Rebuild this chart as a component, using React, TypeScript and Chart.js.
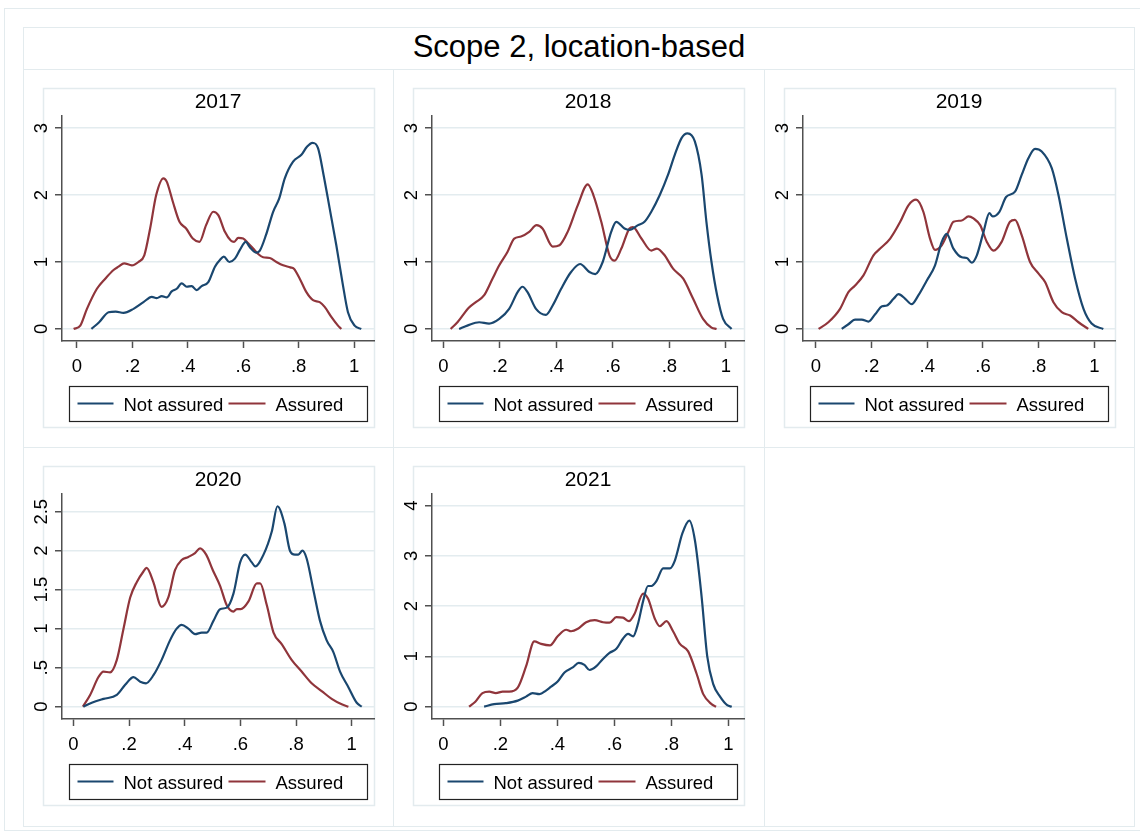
import React, { useEffect, useRef } from "react";
import { Chart, registerables } from "chart.js";

Chart.register(...registerables);

// ---------- DATA ----------
const mainTitle = "Scope 2, location-based";
const seriesNames = ["Not assured", "Assured"];
const years = ["2017", "2018", "2019", "2020", "2021"];

const xTickValues = [0, 0.2, 0.4, 0.6, 0.8, 1];
const xTickLabels = ["0", ".2", ".4", ".6", ".8", "1"];

const yTicksStd = [0, 1, 2, 3];
const yLabelsStd = ["0", "1", "2", "3"];
const yTicks2020 = [0, 0.5, 1, 1.5, 2, 2.5];
const yLabels2020 = ["0", ".5", "1", "1.5", "2", "2.5"];
const yTicks2021 = [0, 1, 2, 3, 4];
const yLabels2021 = ["0", "1", "2", "3", "4"];

const notAssured2017: [number, number][] = [
  [0.052, 0], [0.08, 0.1], [0.114, 0.25], [0.14, 0.26], [0.168, 0.24], [0.204, 0.3], [0.24, 0.4],
  [0.27, 0.48], [0.288, 0.46], [0.306, 0.49], [0.324, 0.47], [0.342, 0.56], [0.36, 0.6], [0.378, 0.68],
  [0.396, 0.63], [0.414, 0.64], [0.432, 0.58], [0.45, 0.64], [0.474, 0.7], [0.498, 0.93], [0.516, 1.03],
  [0.53, 1.08], [0.55, 1.0], [0.57, 1.05], [0.588, 1.18], [0.609, 1.3], [0.624, 1.22], [0.646, 1.14],
  [0.66, 1.17], [0.682, 1.4], [0.708, 1.75], [0.73, 1.95], [0.75, 2.25], [0.78, 2.5], [0.81, 2.6],
  [0.83, 2.72], [0.85, 2.78], [0.87, 2.7], [0.89, 2.3], [0.912, 1.8], [0.936, 1.25], [0.958, 0.7],
  [0.978, 0.25], [1.002, 0.05], [1.026, 0],
];
const assured2017: [number, number][] = [
  [-0.012, 0], [0.012, 0.05], [0.036, 0.3], [0.072, 0.6], [0.102, 0.75], [0.132, 0.88], [0.15, 0.93],
  [0.17, 0.98], [0.198, 0.95], [0.222, 1.0], [0.243, 1.1], [0.264, 1.5], [0.286, 2.0], [0.312, 2.25],
  [0.324, 2.2], [0.346, 1.9], [0.37, 1.6], [0.394, 1.5], [0.418, 1.35], [0.442, 1.3], [0.466, 1.55],
  [0.492, 1.75], [0.51, 1.7], [0.534, 1.45], [0.555, 1.32], [0.567, 1.3], [0.582, 1.36], [0.6, 1.35],
  [0.618, 1.28], [0.636, 1.2], [0.654, 1.12], [0.672, 1.07], [0.696, 1.06], [0.72, 1.0], [0.744, 0.95],
  [0.77, 0.92], [0.783, 0.9], [0.804, 0.75], [0.828, 0.55], [0.852, 0.43], [0.876, 0.4], [0.894, 0.33],
  [0.918, 0.18], [0.942, 0.05], [0.954, 0],
];

const notAssured2018: [number, number][] = [
  [0.056, 0], [0.085, 0.05], [0.127, 0.1], [0.162, 0.08], [0.198, 0.15], [0.233, 0.3], [0.263, 0.55],
  [0.28, 0.63], [0.298, 0.55], [0.328, 0.3], [0.363, 0.21], [0.387, 0.35], [0.417, 0.6], [0.452, 0.85],
  [0.484, 0.97], [0.517, 0.85], [0.538, 0.82], [0.564, 1.0], [0.594, 1.45], [0.612, 1.6], [0.641, 1.5],
  [0.659, 1.48], [0.689, 1.55], [0.712, 1.6], [0.736, 1.75], [0.766, 2.0], [0.795, 2.3], [0.819, 2.6],
  [0.843, 2.85], [0.864, 2.92], [0.89, 2.8], [0.914, 2.3], [0.931, 1.6], [0.949, 1.0], [0.969, 0.5],
  [0.99, 0.15], [1.02, 0],
];
const assured2018: [number, number][] = [
  [0.026, 0], [0.05, 0.1], [0.091, 0.32], [0.115, 0.4], [0.144, 0.5], [0.174, 0.75], [0.198, 0.95],
  [0.227, 1.15], [0.251, 1.35], [0.275, 1.38], [0.304, 1.45], [0.33, 1.55], [0.351, 1.5], [0.387, 1.23],
  [0.411, 1.25], [0.44, 1.45], [0.476, 1.85], [0.511, 2.16], [0.531, 2.0], [0.559, 1.6], [0.588, 1.1],
  [0.606, 1.02], [0.63, 1.2], [0.659, 1.5], [0.671, 1.52], [0.701, 1.35], [0.736, 1.17], [0.756, 1.2],
  [0.783, 1.1], [0.813, 0.9], [0.849, 0.75], [0.884, 0.45], [0.919, 0.15], [0.949, 0.02], [0.967, 0],
];

const notAssured2019: [number, number][] = [
  [0.093, 0], [0.117, 0.07], [0.141, 0.14], [0.165, 0.14], [0.189, 0.11], [0.213, 0.22], [0.238, 0.34],
  [0.255, 0.35], [0.279, 0.45], [0.297, 0.52], [0.321, 0.45], [0.344, 0.37], [0.368, 0.5], [0.398, 0.72],
  [0.428, 0.95], [0.452, 1.3], [0.47, 1.42], [0.494, 1.2], [0.524, 1.07], [0.542, 1.06], [0.56, 0.99],
  [0.578, 1.1], [0.602, 1.45], [0.623, 1.73], [0.635, 1.68], [0.659, 1.75], [0.683, 1.97], [0.715, 2.05],
  [0.739, 2.3], [0.763, 2.55], [0.787, 2.69], [0.811, 2.65], [0.847, 2.4], [0.871, 2.0], [0.901, 1.35],
  [0.931, 0.75], [0.961, 0.3], [0.99, 0.08], [1.032, 0],
];
const assured2019: [number, number][] = [
  [0.01, 0], [0.045, 0.1], [0.087, 0.3], [0.117, 0.55], [0.141, 0.65], [0.171, 0.8], [0.207, 1.1],
  [0.231, 1.2], [0.267, 1.35], [0.303, 1.6], [0.333, 1.85], [0.36, 1.93], [0.386, 1.75], [0.41, 1.35],
  [0.428, 1.18], [0.452, 1.25], [0.476, 1.45], [0.494, 1.6], [0.524, 1.62], [0.548, 1.68], [0.566, 1.65],
  [0.59, 1.55], [0.614, 1.3], [0.638, 1.17], [0.667, 1.3], [0.697, 1.6], [0.715, 1.63], [0.739, 1.4],
  [0.769, 1.0], [0.799, 0.83], [0.823, 0.7], [0.853, 0.4], [0.883, 0.25], [0.913, 0.2], [0.943, 0.1],
  [0.978, 0],
];

const notAssured2020: [number, number][] = [
  [0.036, 0], [0.066, 0.05], [0.108, 0.1], [0.156, 0.15], [0.186, 0.28], [0.216, 0.38], [0.24, 0.32],
  [0.261, 0.3], [0.287, 0.4], [0.317, 0.6], [0.347, 0.85], [0.371, 1.0], [0.389, 1.05], [0.413, 1.0],
  [0.437, 0.93], [0.461, 0.95], [0.479, 0.95], [0.503, 1.1], [0.527, 1.25], [0.551, 1.27], [0.575, 1.45],
  [0.599, 1.85], [0.617, 1.95], [0.641, 1.85], [0.653, 1.8], [0.683, 1.95], [0.713, 2.25], [0.733, 2.57],
  [0.758, 2.35], [0.778, 2.0], [0.796, 1.95], [0.808, 1.95], [0.823, 2.0], [0.838, 1.9], [0.862, 1.5],
  [0.886, 1.1], [0.91, 0.85], [0.934, 0.7], [0.958, 0.45], [0.988, 0.25], [1.018, 0.05], [1.036, 0],
];
const assured2020: [number, number][] = [
  [0.034, 0], [0.06, 0.15], [0.09, 0.38], [0.108, 0.45], [0.132, 0.44], [0.156, 0.6], [0.18, 1.0],
  [0.204, 1.4], [0.228, 1.6], [0.251, 1.73], [0.263, 1.78], [0.287, 1.6], [0.317, 1.28], [0.341, 1.4],
  [0.365, 1.75], [0.389, 1.88], [0.413, 1.92], [0.437, 1.97], [0.455, 2.03], [0.477, 1.95], [0.501, 1.75],
  [0.527, 1.55], [0.551, 1.3], [0.575, 1.22], [0.587, 1.25], [0.601, 1.25], [0.629, 1.35], [0.659, 1.58],
  [0.671, 1.58], [0.695, 1.3], [0.719, 0.95], [0.749, 0.8], [0.784, 0.6], [0.82, 0.45], [0.856, 0.3],
  [0.892, 0.2], [0.928, 0.1], [0.964, 0.03], [0.988, 0],
];

const notAssured2021: [number, number][] = [
  [0.143, 0], [0.178, 0.05], [0.219, 0.07], [0.261, 0.12], [0.29, 0.2], [0.313, 0.27], [0.337, 0.25],
  [0.36, 0.32], [0.378, 0.4], [0.401, 0.5], [0.425, 0.68], [0.454, 0.78], [0.475, 0.87], [0.495, 0.83],
  [0.513, 0.73], [0.536, 0.8], [0.56, 0.95], [0.583, 1.07], [0.607, 1.15], [0.63, 1.35], [0.648, 1.45],
  [0.666, 1.4], [0.683, 1.65], [0.701, 2.1], [0.718, 2.4], [0.73, 2.4], [0.748, 2.5], [0.771, 2.75],
  [0.795, 2.75], [0.812, 2.9], [0.839, 3.45], [0.863, 3.7], [0.883, 3.3], [0.906, 2.2], [0.926, 1.0],
  [0.947, 0.45], [0.971, 0.2], [0.996, 0.03], [1.012, 0],
];
const assured2021: [number, number][] = [
  [0.09, 0], [0.112, 0.1], [0.137, 0.27], [0.161, 0.3], [0.184, 0.27], [0.208, 0.3], [0.231, 0.3],
  [0.261, 0.38], [0.29, 0.8], [0.319, 1.3], [0.343, 1.25], [0.374, 1.22], [0.401, 1.4], [0.431, 1.53],
  [0.448, 1.5], [0.472, 1.55], [0.501, 1.68], [0.531, 1.72], [0.56, 1.68], [0.583, 1.67], [0.607, 1.78],
  [0.63, 1.77], [0.651, 1.7], [0.671, 1.85], [0.701, 2.25], [0.718, 2.15], [0.742, 1.75], [0.759, 1.6],
  [0.783, 1.7], [0.806, 1.5], [0.83, 1.25], [0.859, 1.1], [0.889, 0.65], [0.912, 0.25], [0.941, 0.05],
  [0.957, 0],
];

// ---------- STYLE / LAYOUT ----------
const FONT = '"Liberation Sans", Arial, Helvetica, sans-serif';
const NAVY = "#1a476f";
const MAROON = "#90353b";
const AXIS = "#505050";
const GRID = "#e3ecef";
const FRAME = "#e3ebee";

const colLefts = [23, 393, 764];
const rowTops = [69, 447];
const CELL_W = 370;
const CELL_H = 378;

type Panel = {
  title: string;
  col: number;
  row: number;
  xMin: number;
  xMax: number;
  yMin: number;
  yMax: number;
  yTicks: number[];
  yLabels: string[];
  notAssured: [number, number][];
  assured: [number, number][];
};

const panels: Panel[] = [
  { title: years[0], col: 0, row: 0, xMin: -0.054, xMax: 1.072, yMin: -0.18, yMax: 3.18, yTicks: yTicksStd, yLabels: yLabelsStd, notAssured: notAssured2017, assured: assured2017 },
  { title: years[1], col: 1, row: 0, xMin: -0.04, xMax: 1.064, yMin: -0.18, yMax: 3.18, yTicks: yTicksStd, yLabels: yLabelsStd, notAssured: notAssured2018, assured: assured2018 },
  { title: years[2], col: 2, row: 0, xMin: -0.046, xMax: 1.074, yMin: -0.18, yMax: 3.18, yTicks: yTicksStd, yLabels: yLabelsStd, notAssured: notAssured2019, assured: assured2019 },
  { title: years[3], col: 0, row: 1, xMin: -0.041, xMax: 1.08, yMin: -0.158, yMax: 2.727, yTicks: yTicks2020, yLabels: yLabels2020, notAssured: notAssured2020, assured: assured2020 },
  { title: years[4], col: 1, row: 1, xMin: -0.04, xMax: 1.055, yMin: -0.245, yMax: 4.23, yTicks: yTicks2021, yLabels: yLabels2021, notAssured: notAssured2021, assured: assured2021 },
];

function decorPlugin(panel: Panel) {
  return {
    id: "stataDecor",
    beforeDraw(chart: any) {
      const ctx = chart.ctx;
      ctx.save();
      ctx.strokeStyle = FRAME;
      ctx.lineWidth = 1.5;
      ctx.strokeRect(20.5, 19.5, 331, 339);
      ctx.restore();
    },
    afterDraw(chart: any) {
      const { ctx, chartArea, scales } = chart;
      const cx = (chartArea.left + chartArea.right) / 2;
      ctx.save();
      ctx.fillStyle = "#000";
      // panel title
      ctx.font = `21px ${FONT}`;
      ctx.textAlign = "center";
      ctx.textBaseline = "alphabetic";
      ctx.fillText(panel.title, cx, chartArea.top - 8);
      // y tick labels (rotated)
      ctx.font = `18.5px ${FONT}`;
      panel.yTicks.forEach((v, i) => {
        const py = scales.y.getPixelForValue(v);
        ctx.save();
        ctx.translate(chartArea.left - 15, py);
        ctx.rotate(-Math.PI / 2);
        ctx.textAlign = "center";
        ctx.textBaseline = "alphabetic";
        ctx.fillText(panel.yLabels[i], 0, 0);
        ctx.restore();
      });
      // x tick labels
      ctx.textAlign = "center";
      xTickValues.forEach((v, i) => {
        const px = scales.x.getPixelForValue(v);
        ctx.fillText(xTickLabels[i], px, chartArea.bottom + 31);
      });
      // legend
      const boxW = 298;
      const boxH = 35;
      const bx = Math.round(cx - boxW / 2) + 0.5;
      const by = chartArea.bottom + 45.5;
      ctx.strokeStyle = "#222";
      ctx.lineWidth = 1.2;
      ctx.strokeRect(bx, by, boxW, boxH);
      const ly = by + 17;
      ctx.lineWidth = 2;
      ctx.strokeStyle = NAVY;
      ctx.beginPath();
      ctx.moveTo(bx + 8, ly);
      ctx.lineTo(bx + 44, ly);
      ctx.stroke();
      ctx.strokeStyle = MAROON;
      ctx.beginPath();
      ctx.moveTo(bx + 159, ly);
      ctx.lineTo(bx + 196, ly);
      ctx.stroke();
      ctx.font = `18.5px ${FONT}`;
      ctx.textAlign = "left";
      ctx.fillStyle = "#000";
      ctx.fillText(seriesNames[0], bx + 54, by + 24);
      ctx.fillText(seriesNames[1], bx + 206, by + 24);
      ctx.restore();
    },
  };
}

function PanelChart({ panel }: { panel: Panel }) {
  const ref = useRef<HTMLCanvasElement | null>(null);
  useEffect(() => {
    if (!ref.current) return;
    const toPts = (arr: [number, number][]) => arr.map(([x, y]) => ({ x, y }));
    const chart = new Chart(ref.current, {
      type: "line",
      data: {
        datasets: [
          {
            label: seriesNames[0],
            data: toPts(panel.notAssured),
            borderColor: NAVY,
            borderWidth: 2.2,
            pointRadius: 0,
            cubicInterpolationMode: "monotone",
            fill: false,
          },
          {
            label: seriesNames[1],
            data: toPts(panel.assured),
            borderColor: MAROON,
            borderWidth: 2.2,
            pointRadius: 0,
            cubicInterpolationMode: "monotone",
            fill: false,
          },
        ],
      },
      options: {
        animation: false,
        responsive: false,
        devicePixelRatio: 1,
        events: [],
        layout: { padding: { left: 0, top: 47, right: CELL_W - 351, bottom: 0 } },
        plugins: {
          legend: { display: false },
          title: { display: false },
          tooltip: { enabled: false },
        },
        scales: {
          x: {
            type: "linear",
            min: panel.xMin,
            max: panel.xMax,
            bounds: "data",
            afterBuildTicks: (s: any) => {
              s.ticks = xTickValues.map((v) => ({ value: v }));
            },
            afterFit: (s: any) => {
              s.height = CELL_H - 272;
            },
            ticks: { display: false },
            grid: {
              drawOnChartArea: false,
              drawTicks: true,
              tickLength: 7,
              tickColor: AXIS,
              tickWidth: 1.5,
              color: AXIS,
            },
            border: { display: true, color: AXIS, width: 1.5 },
          },
          y: {
            type: "linear",
            min: panel.yMin,
            max: panel.yMax,
            bounds: "data",
            afterBuildTicks: (s: any) => {
              s.ticks = panel.yTicks.map((v) => ({ value: v }));
            },
            afterFit: (s: any) => {
              s.width = 39;
            },
            ticks: { display: false },
            grid: {
              color: GRID,
              lineWidth: 1.5,
              drawTicks: true,
              tickLength: 7,
              tickColor: AXIS,
              tickWidth: 1.5,
            },
            border: { display: true, color: AXIS, width: 1.5 },
          },
        },
      } as any,
      plugins: [decorPlugin(panel)],
    });
    return () => chart.destroy();
  }, [panel]);

  return (
    <canvas
      ref={ref}
      width={CELL_W}
      height={CELL_H}
      style={{
        position: "absolute",
        left: colLefts[panel.col],
        top: rowTops[panel.row],
        width: CELL_W,
        height: CELL_H,
      }}
    />
  );
}

export default function App() {
  const cells: { l: number; t: number; w: number; h: number }[] = [];
  for (let r = 0; r < 2; r++) {
    for (let c = 0; c < 3; c++) {
      const l = colLefts[c];
      const t = rowTops[r];
      const nextL = c < 2 ? colLefts[c + 1] : 1134;
      const nextT = r < 1 ? rowTops[r + 1] : 826;
      cells.push({ l, t, w: nextL - l + 1, h: nextT - t + 1 });
    }
  }
  return (
    <div
      style={{
        position: "absolute",
        left: 0,
        top: 0,
        width: 1140,
        height: 834,
        background: "#fff",
        overflow: "hidden",
        fontFamily: FONT,
      }}
    >
      <div
        style={{
          position: "absolute",
          left: 4,
          top: 8,
          width: 1150,
          height: 823,
          border: `1.5px solid ${FRAME}`,
          boxSizing: "border-box",
        }}
      />
      <div
        style={{
          position: "absolute",
          left: 23,
          top: 27,
          width: 1112,
          height: 43,
          border: `1.5px solid ${FRAME}`,
          boxSizing: "border-box",
        }}
      />
      <div
        style={{
          position: "absolute",
          left: 23,
          top: 29,
          width: 1112,
          textAlign: "center",
          fontSize: 31,
          lineHeight: "36px",
          color: "#000",
        }}
      >
        {mainTitle}
      </div>
      {cells.map((c, i) => (
        <div
          key={i}
          style={{
            position: "absolute",
            left: c.l,
            top: c.t,
            width: c.w,
            height: c.h,
            border: `1.5px solid ${FRAME}`,
            boxSizing: "border-box",
          }}
        />
      ))}
      {panels.map((p) => (
        <PanelChart key={p.title} panel={p} />
      ))}
    </div>
  );
}
